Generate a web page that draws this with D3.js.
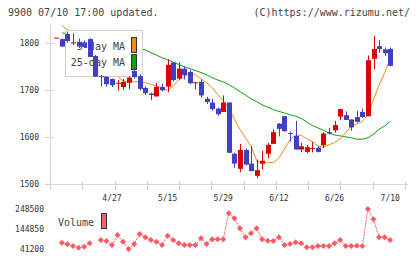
<!DOCTYPE html>
<html>
<head>
<meta charset="utf-8">
<script src="https://cdn.jsdelivr.net/npm/d3@7"></script>
<style>
  body { margin: 0; background: #fff; }
  text { font-family: "DejaVu Sans Mono", monospace; }
</style>
</head>
<body>
<div id="chart"></div>
<script>
// trading days 2020/04/13 - 2020/07/10
const dates = ["4/13","4/14","4/15","4/16","4/17","4/20","4/21","4/22","4/23","4/24",
  "4/27","4/28","4/30","5/1","5/7","5/8","5/11","5/12","5/13","5/14",
  "5/15","5/18","5/19","5/20","5/21","5/22","5/25","5/26","5/27","5/28",
  "5/29","6/1","6/2","6/3","6/4","6/5","6/8","6/9","6/10","6/11",
  "6/12","6/15","6/16","6/17","6/18","6/19","6/22","6/23","6/24","6/25",
  "6/26","6/29","6/30","7/1","7/2","7/3","7/6","7/7","7/8","7/9","7/10"];

const open  = [1812,1809,1820,1801,1803,1802,1809,1773,1730,1729,1724,1715,1707,1716,1741,1730,1705,1693,1687,1707,
  1708,1759,1725,1746,1739,1715,1718,1682,1674,1661,1654,1674,1565,1533,1573,1544,1518,1544,1565,1586,
  1629,1645,1609,1603,1574,1569,1575,1578,1583,1611,1615,1644,1647,1638,1643,1654,1645,1767,1794,1787,1788];
const high  = [1812,1810,1825,1821,1810,1806,1811,1775,1733,1729,1725,1722,1724,1730,1747,1734,1708,1695,1716,1714,
  1766,1760,1760,1751,1743,1718,1723,1686,1682,1663,1689,1674,1567,1586,1576,1581,1553,1571,1588,1617,
  1630,1645,1612,1635,1588,1584,1590,1581,1611,1620,1635,1660,1655,1638,1656,1661,1774,1816,1807,1791,1791];
const low   = [1812,1793,1801,1796,1790,1790,1771,1729,1708,1708,1707,1699,1701,1703,1725,1700,1690,1679,1687,1698,
  1696,1719,1723,1723,1713,1702,1684,1671,1657,1646,1654,1567,1535,1526,1540,1528,1513,1532,1555,1586,
  1602,1612,1591,1574,1568,1566,1568,1568,1577,1606,1610,1637,1637,1614,1631,1642,1645,1745,1780,1773,1751];
const close = [1812,1793,1805,1802,1793,1792,1771,1729,1728,1713,1711,1716,1718,1727,1728,1703,1694,1690,1707,1700,
  1754,1722,1746,1732,1715,1717,1689,1675,1660,1649,1674,1567,1544,1573,1542,1528,1530,1550,1584,1611,
  1618,1613,1607,1574,1581,1579,1577,1569,1608,1608,1626,1660,1637,1621,1633,1643,1764,1788,1788,1779,1752];

const ma5  = [null,1838,1829,1822,1815,1808,1800,1790,1778,1765,1752,1730,1720,1718,1718,1718,1716,1713,1709,1706,
  1699,1710,1722,1730,1737,1733,1724,1716,1706,1691,1677,1663,1638,1617,1599,1581,1550,1545,1546,1546,
  1556,1575,1595,1605,1604,1597,1591,1582,1578,1584,1589,1597,1610,1624,1628,1634,1649,1680,1711,1737,1766];
const ma25 = [null,1822,1821,1819,1817,1815,1812,1809,1806,1803,1800,1797,1795,1792,1790,1788,1786,1780,1775,1769,
  1765,1760,1755,1750,1746,1742,1738,1733,1727,1722,1718,1712,1705,1697,1690,1682,1676,1669,1664,1659,
  1655,1652,1648,1645,1640,1633,1625,1620,1615,1609,1605,1603,1601,1599,1596,1596,1599,1607,1617,1624,1634];

const volume = [null,73850,65560,56750,47940,53120,70740,null,87840,82660,61930,113750,79030,41200,67110,118940,101830,87840,79030,61930,
  110120,87840,70740,61930,61930,61930,96650,67110,91470,91470,91470,226210,200300,148470,101830,122570,148470,91470,84210,82660,
  101830,61930,67110,75920,70740,50010,50010,56750,56750,56750,70740,87840,56750,56750,58000,56750,248500,195120,101830,101830,87840];

const priceTicks = [1500, 1600, 1700, 1800];
const volTicks = [41200, 144850, 248500];
const labelDates = ["4/27","5/15","5/29","6/12","6/26","7/10"];

const W = 420, H = 259;
const plot = {left: 50, right: 405, top: 25, bottom: 184.3};

const svg = d3.select("#chart").append("svg")
  .attr("width", W).attr("height", H)
  .style("display", "block");

const x = d3.scalePoint().domain(dates).range([56.3, 390.2]);
const y = d3.scaleLinear().domain([1500, 1800]).range([184.3, 43.3]);
const yv = d3.scaleLinear().domain([41200, 248500]).range([249, 209]);
const grid = d3.scaleLinear().domain([0, 11]).range([plot.left, plot.right]);

// header
svg.append("text").attr("x", 8).attr("y", 16)
  .attr("font-size", 10).attr("fill", "#444")
  .text("9900 07/10 17:00 updated.");
svg.append("text").attr("x", 410).attr("y", 16)
  .attr("font-size", 10).attr("fill", "#444").attr("text-anchor", "end")
  .text("(C)https://www.rizumu.net/");

// axes
const axisCol = "#d4d4d4";
svg.append("line").attr("x1", plot.left + 0.5).attr("x2", plot.left + 0.5)
  .attr("y1", plot.top).attr("y2", 190).attr("stroke", axisCol);
svg.append("line").attr("x1", 45).attr("x2", 408)
  .attr("y1", 184.5).attr("y2", 184.5).attr("stroke", axisCol);
svg.append("g").selectAll("line")
  .data(d3.range(1, 12))
  .join("line")
  .attr("x1", d => Math.round(grid(d)) + 0.5).attr("x2", d => Math.round(grid(d)) + 0.5)
  .attr("y1", 181).attr("y2", 190).attr("stroke", axisCol);
svg.append("g").selectAll("line")
  .data(priceTicks)
  .join("line")
  .attr("x1", 45).attr("x2", 54)
  .attr("y1", d => Math.round(y(d)) + 0.5).attr("y2", d => Math.round(y(d)) + 0.5)
  .attr("stroke", axisCol);
svg.append("g").selectAll("text")
  .data(priceTicks)
  .join("text")
  .attr("x", 39).attr("y", d => y(d) + 3)
  .attr("text-anchor", "end").attr("font-size", 8).attr("fill", "#333")
  .text(d => d);
svg.append("g").selectAll("text")
  .data(labelDates)
  .join("text")
  .attr("x", d => x(d)).attr("y", 201)
  .attr("text-anchor", "middle").attr("font-size", 8).attr("fill", "#333")
  .text(d => d);

// moving averages (under the legend)
svg.append("clipPath").attr("id", "clip")
  .append("rect").attr("x", plot.left).attr("y", plot.top)
  .attr("width", plot.right - plot.left).attr("height", plot.bottom - plot.top);

const maLine = arr => d3.line()
  .defined((d, i) => arr[i] != null)
  .x((d, i) => x(dates[i]))
  .y((d, i) => y(arr[i]))(dates);

svg.append("path").attr("d", maLine(ma25)).attr("fill", "none")
  .attr("stroke", "#10a010").attr("stroke-width", 1).attr("clip-path", "url(#clip)");
svg.append("path").attr("d", maLine(ma5)).attr("fill", "none")
  .attr("stroke", "#f08a1a").attr("stroke-width", 1).attr("clip-path", "url(#clip)");

// legend box
const lg = svg.append("g");
lg.append("rect").attr("x", 65.5).attr("y", 30.5).attr("width", 77).attr("height", 46)
  .attr("fill", "#fff").attr("stroke", "#d0d0d0");
lg.append("text").attr("x", 125).attr("y", 50).attr("text-anchor", "end")
  .attr("font-size", 10).attr("fill", "#444").text("5-day MA");
lg.append("text").attr("x", 125).attr("y", 66).attr("text-anchor", "end")
  .attr("font-size", 10).attr("fill", "#444").text("25-day MA");
lg.append("rect").attr("x", 131.5).attr("y", 37.5).attr("width", 5).attr("height", 15)
  .attr("fill", "#f08a1a").attr("stroke", "#333");
lg.append("rect").attr("x", 131.5).attr("y", 54.5).attr("width", 5).attr("height", 15)
  .attr("fill", "#10a010").attr("stroke", "#333");

// candles
const up = "#dd0000", down = "#4040c0";
const candles = svg.append("g").selectAll("g")
  .data(dates)
  .join("g");
candles.append("line")
  .attr("x1", d => Math.round(x(d)) + 0.5).attr("x2", d => Math.round(x(d)) + 0.5)
  .attr("y1", (d, i) => y(high[i])).attr("y2", (d, i) => y(low[i]))
  .attr("stroke", (d, i) => close[i] >= open[i] ? up : down);
candles.append("rect")
  .attr("x", d => Math.round(x(d)) - 2)
  .attr("width", 5)
  .attr("y", (d, i) => y(Math.max(open[i], close[i])))
  .attr("height", (d, i) => Math.max(1, Math.abs(y(open[i]) - y(close[i]))))
  .attr("fill", (d, i) => close[i] >= open[i] ? up : down);

// volume panel
svg.append("g").selectAll("text")
  .data(volTicks)
  .join("text")
  .attr("x", 44).attr("y", d => yv(d) + 3)
  .attr("text-anchor", "end").attr("font-size", 8).attr("fill", "#333")
  .text(d => d);

svg.append("text").attr("x", 58).attr("y", 225.5)
  .attr("font-size", 10).attr("fill", "#444").text("Volume");
svg.append("rect").attr("x", 101.5).attr("y", 213.5).attr("width", 5).attr("height", 15)
  .attr("fill", "#ff6068").attr("stroke", "#333");

const volCol = "#ff5a64";
const volLine = d3.line()
  .defined((d, i) => volume[i] != null)
  .x(d => x(d))
  .y((d, i) => yv(volume[i]));
svg.append("path").attr("d", volLine(dates)).attr("fill", "none")
  .attr("stroke", volCol).attr("stroke-width", 1).attr("stroke-dasharray", "2,1");
svg.append("g").selectAll("path")
  .data(dates.filter((d, i) => volume[i] != null))
  .join("path")
  .attr("d", d3.symbol(d3.symbolSquare, 18))
  .attr("transform", d => `translate(${x(d)},${yv(volume[dates.indexOf(d)])}) rotate(45)`)
  .attr("fill", volCol);
</script>
</body>
</html>
